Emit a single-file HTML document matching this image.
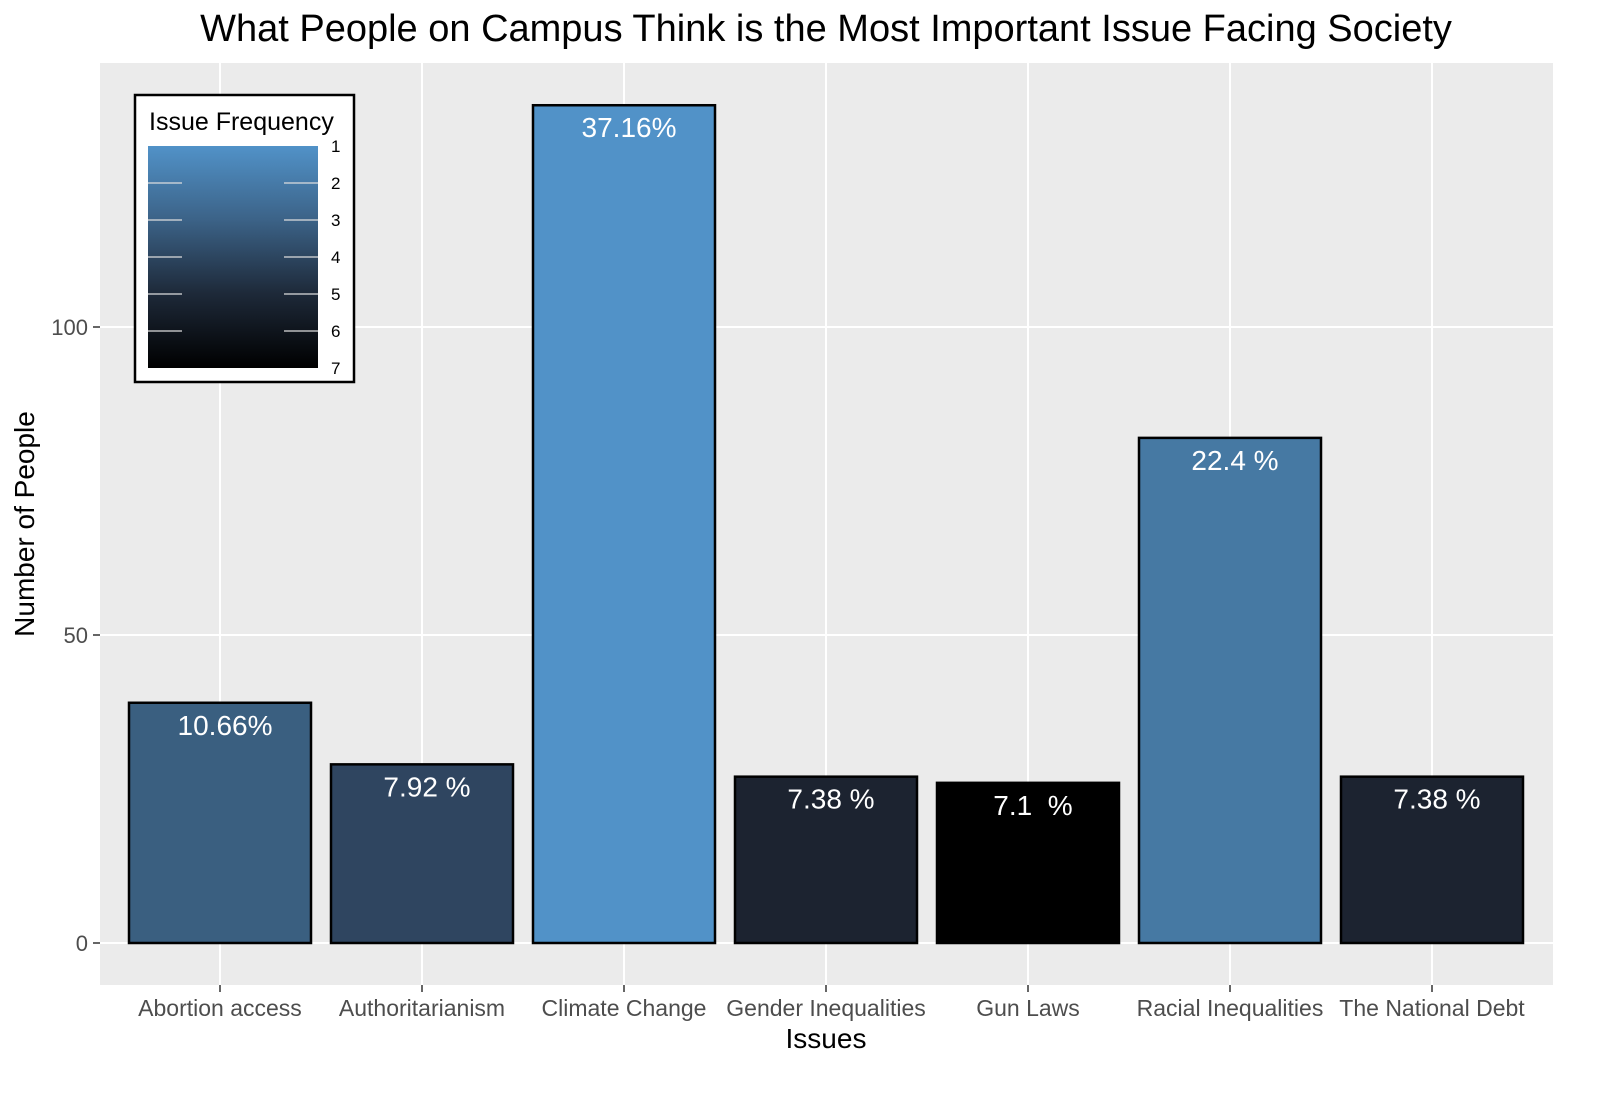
<!DOCTYPE html>
<html><head><meta charset="utf-8"><style>
body{margin:0;background:#fff;width:1600px;height:1090px;overflow:hidden}
svg text{font-family:"Liberation Sans",sans-serif}
</style></head><body>
<svg id="c" width="1600" height="1090" xmlns="http://www.w3.org/2000/svg">
<defs><linearGradient id="g" x1="0" y1="0" x2="0" y2="1">
<stop offset="0" stop-color="#5192c8"/><stop offset="0.33" stop-color="#3c6388"/><stop offset="0.66" stop-color="#1e2a3a"/><stop offset="1" stop-color="#000"/></linearGradient></defs>
<text x="826" y="41" font-size="38" text-anchor="middle">What People on Campus Think is the Most Important Issue Facing Society</text>
<rect x="100" y="63" width="1453" height="922" fill="#ebebeb"/>
<g id="grid"></g><g id="bars"></g><g id="axes"></g>
<text x="826" y="1048" font-size="28" text-anchor="middle">Issues</text>
<text transform="translate(34,524) rotate(-90)" font-size="28" text-anchor="middle">Number of People</text>
<g>
<rect x="135" y="95" width="219" height="287" fill="#fff" stroke="#000" stroke-width="2.5"/>
<text x="149" y="130" font-size="25">Issue Frequency</text>
<rect x="148" y="146" width="170" height="222" fill="url(#g)"/>
<g id="leg"></g>
</g>
</svg>
<script>
const categories=["Abortion access","Authoritarianism","Climate Change","Gender Inequalities","Gun Laws","Racial Inequalities","The National Debt"];
const counts=[39,29,136,27,26,82,27];
const labels=["10.66%","7.92 %","37.16%","7.38 %","7.1  %","22.4 %","7.38 %"];
const colors=["#3a5f80","#2f4560","#5192c8","#1c2330","#000000","#4679a3","#1c2330"];
const yTicks=[0,50,100];
const legendTicks=[1,2,3,4,5,6,7];
const NS="http://www.w3.org/2000/svg";
const y=v=>943-v*6.16, x=i=>220+i*202;
function mk(t,a,p){const e=document.createElementNS(NS,t);for(const k in a)e.setAttribute(k,a[k]);p.appendChild(e);return e;}
const grid=document.getElementById('grid'),bars=document.getElementById('bars'),axes=document.getElementById('axes'),leg=document.getElementById('leg');
yTicks.forEach(v=>{const l=mk('line',{x1:100,x2:1553,y1:y(v),y2:y(v),stroke:'#fff','stroke-width':2},grid);


mk('line',{x1:93,x2:100,y1:y(v),y2:y(v),stroke:'#333','stroke-width':1.5},axes);
const t=mk('text',{x:88,y:y(v)+8,'font-size':22,'text-anchor':'end',fill:'#4d4d4d'},axes);t.textContent=v;

});
categories.forEach((c,i)=>{const l=mk('line',{x1:x(i),x2:x(i),y1:63,y2:985,stroke:'#fff','stroke-width':2},grid);


const r=mk('rect',{x:x(i)-91,y:y(counts[i]),width:182,height:y(0)-y(counts[i]),fill:colors[i],stroke:'#000','stroke-width':2.5},bars);


const t=mk('text',{x:x(i)+5,y:y(counts[i])+32,'font-size':28,'text-anchor':'middle',fill:'#fff','xml:space':'preserve'},bars);t.textContent=labels[i];
t.style.whiteSpace='pre';


mk('line',{x1:x(i),x2:x(i),y1:985,y2:992,stroke:'#333','stroke-width':1.5},axes);
const k=mk('text',{x:x(i),y:1016,'font-size':23,'text-anchor':'middle',fill:'#4d4d4d'},axes);k.textContent=c;

});
legendTicks.forEach((v,i)=>{const yy=146+i*37;
if(i>0&&i<6){mk('line',{x1:148,x2:182,y1:yy,y2:yy,stroke:'#ddd','stroke-width':1.2},leg);mk('line',{x1:284,x2:318,y1:yy,y2:yy,stroke:'#ddd','stroke-width':1.2},leg);}
const t=mk('text',{x:331,y:yy+6,'font-size':17},leg);t.textContent=v;

});
</script>
</body></html>
